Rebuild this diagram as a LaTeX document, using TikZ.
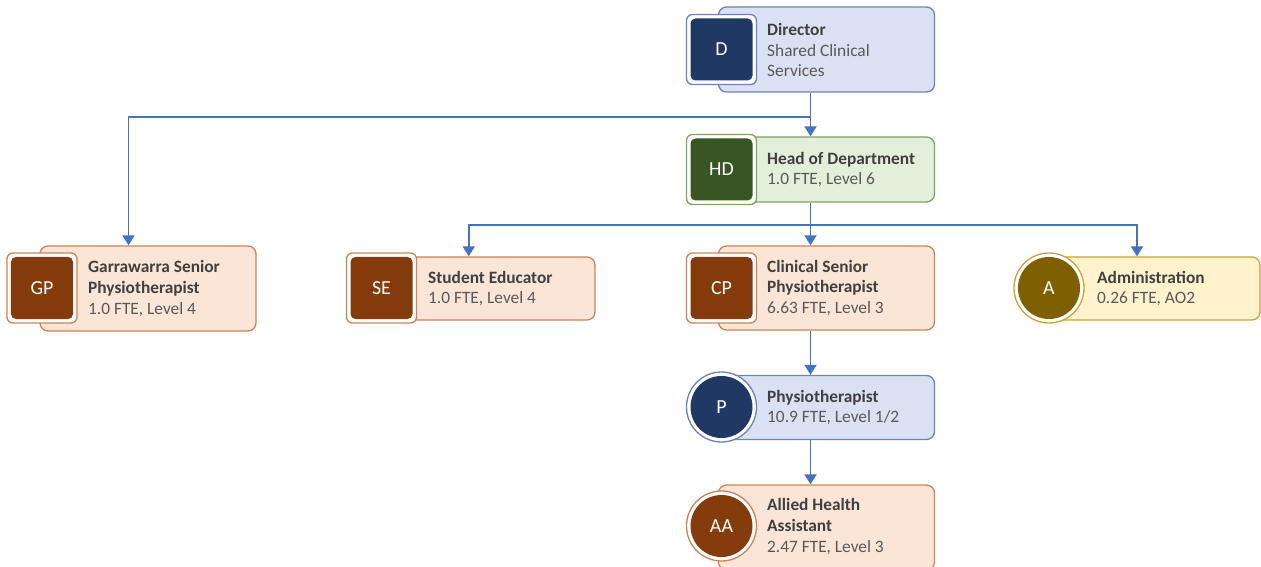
\documentclass[tikz,border=0pt]{standalone}
\usepackage{fontspec}
\setmainfont{Carlito}
\usetikzlibrary{arrows.meta,calc}
\definecolor{conn}{HTML}{4472C4}
\definecolor{bluefill}{HTML}{DAE1F3}
\definecolor{blueline}{HTML}{6E82BA}
\definecolor{blueicon}{HTML}{1F3864}
\definecolor{greenfill}{HTML}{E2EFDA}
\definecolor{greenline}{HTML}{7FA366}
\definecolor{greenicon}{HTML}{375623}
\definecolor{brownfill}{HTML}{FBE5D6}
\definecolor{brownline}{HTML}{C98559}
\definecolor{brownicon}{HTML}{843C0C}
\definecolor{yelfill}{HTML}{FFF2CC}
\definecolor{yelline}{HTML}{C9A43A}
\definecolor{yelicon}{HTML}{7F6000}
\definecolor{titlecol}{HTML}{404040}
\definecolor{subcol}{HTML}{595959}
\tikzset{
  card/.style={rounded corners=8bp, line width=1.3bp, minimum width=216bp, inner sep=0pt},
  sqouter/.style={rectangle, rounded corners=6bp, fill=white, line width=1.3bp, minimum size=70bp, inner sep=0pt},
  sqinner/.style={rectangle, rounded corners=5bp, minimum size=62bp, inner sep=0pt, text=white, font=\fontsize{20}{22}\selectfont},
  ciouter/.style={circle, fill=white, line width=1.3bp, minimum size=70bp, inner sep=0pt},
  ciinner/.style={circle, minimum size=62bp, inner sep=0pt, text=white, font=\fontsize{20}{22}\selectfont},
  label/.style={anchor=west, align=left, inner sep=0pt, text=subcol, font=\fontsize{17.4}{21}\selectfont},
  conn/.style={draw=conn, line width=1.8bp, -{Triangle[width=12bp,length=10bp]}},
  connl/.style={draw=conn, line width=1.8bp}
}
\newcommand{\ttl}[1]{{\bfseries\color{titlecol}#1}}
\begin{document}
\begin{tikzpicture}[x=1bp,y=-1bp]
\useasboundingbox (0,0) rectangle (1261,567);
% Director
\node[card, draw=blueline, fill=bluefill, minimum height=85bp] (D) at (826.5,49.5) {};
\node[sqouter, draw=blueline] (Di) at (721.5,49.5) {};
\node[sqinner, fill=blueicon] (Dl) at (Di) {D};
\node[label] (Dt) at (767,50) {\ttl{Director}\\Shared Clinical\\Services};
% Head of Department
\node[card, draw=greenline, fill=greenfill, minimum height=65bp] (HD) at (826.5,169.5) {};
\node[sqouter, draw=greenline] (HDi) at (721.5,169.5) {};
\node[sqinner, fill=greenicon] (HDl) at (HDi) {HD};
\node[label] (HDt) at (767,169.5) {\ttl{Head of Department}\\1.0 FTE, Level 6};
% Garrawarra
\node[card, draw=brownline, fill=brownfill, minimum height=85bp] (GP) at (148,288.5) {};
\node[sqouter, draw=brownline] (GPi) at (42,288) {};
\node[sqinner, fill=brownicon] (GPl) at (GPi) {GP};
\node[label] (GPt) at (88,288.5) {\ttl{Garrawarra Senior}\\\ttl{Physiotherapist}\\1.0 FTE, Level 4};
% Student Educator
\node[card, draw=brownline, fill=brownfill, minimum width=215bp, minimum height=63bp] (SE) at (487.5,288.5) {};
\node[sqouter, draw=brownline] (SEi) at (381.5,288) {};
\node[sqinner, fill=brownicon] (SEl) at (SEi) {SE};
\node[label] (SEt) at (428,288.5) {\ttl{Student Educator}\\1.0 FTE, Level 4};
% Clinical Senior
\node[card, draw=brownline, fill=brownfill, minimum height=84bp] (CP) at (826.5,288) {};
\node[sqouter, draw=brownline] (CPi) at (721.5,288) {};
\node[sqinner, fill=brownicon] (CPl) at (CPi) {CP};
\node[label] (CPt) at (767,288) {\ttl{Clinical Senior}\\\ttl{Physiotherapist}\\6.63 FTE, Level 3};
% Administration
\node[card, draw=yelline, fill=yelfill, minimum width=210bp, minimum height=63bp] (A) at (1155,288.5) {};
\node[ciouter, draw=yelline] (Ai) at (1049,288) {};
\node[ciinner, fill=yelicon] (Al) at (Ai) {A};
\node[label] (At) at (1097,288.5) {\ttl{Administration}\\0.26 FTE, AO2};
% Physiotherapist
\node[card, draw=blueline, fill=bluefill, minimum height=64bp] (P) at (826.5,407.5) {};
\node[ciouter, draw=blueline] (Pi) at (721.5,407) {};
\node[ciinner, fill=blueicon] (Pl) at (Pi) {P};
\node[label] (Pt) at (767,407.5) {\ttl{Physiotherapist}\\10.9 FTE, Level 1/2};
% Allied Health Assistant
\node[card, draw=brownline, fill=brownfill, minimum height=85bp] (AA) at (826.5,527.5) {};
\node[ciouter, draw=brownline] (AAi) at (721.5,526) {};
\node[ciinner, fill=brownicon] (AAl) at (AAi) {AA};
\node[label] (AAt) at (767,526.5) {\ttl{Allied Health}\\\ttl{Assistant}\\2.47 FTE, Level 3};
% connector anchor points (centre of each icon+card group)
\coordinate (GPtop) at ($(GPi.west |- GP.north)!.5!(GP.north east)$);
\coordinate (SEtop) at ($(SEi.west |- SE.north)!.5!(SE.north east)$);
\coordinate (CPtop) at ($(CPi.west |- CP.north)!.5!(CP.north east)$);
\coordinate (Atop) at ($(Ai.west |- A.north)!.5!(A.north east)$);
\coordinate (HDtop) at ($(HDi.west |- HD.north)!.5!(HD.north east)$);
\coordinate (Dbot) at ($(Di.west |- D.south)!.5!(D.south east)$);
\coordinate (HDbot) at ($(HDi.west |- HD.south)!.5!(HD.south east)$);
\coordinate (CPbot) at ($(CPi.west |- CP.south)!.5!(CP.south east)$);
\coordinate (Pbot) at ($(Pi.west |- P.south)!.5!(P.south east)$);
\coordinate (AAtop) at ($(AAi.west |- AA.north)!.5!(AA.north east)$);
\coordinate (Ptop) at ($(Pi.west |- P.north)!.5!(P.north east)$);
% connectors
\draw[conn] (Dbot) -- (HDtop);
\draw[conn] (Dbot) -- ++(0,24) -| ([xshift=-3bp]GPtop);
\draw[connl] (HDbot) -- ++(0,22) coordinate (hb);
\draw[conn] (hb) -| ([xshift=-2bp]SEtop);
\draw[conn] (hb) -- (CPtop);
\draw[conn] (hb) -| (Atop);
\draw[conn] (CPbot) -- (Ptop);
\draw[conn] (Pbot) -- (AAtop);
\end{tikzpicture}
\end{document}
